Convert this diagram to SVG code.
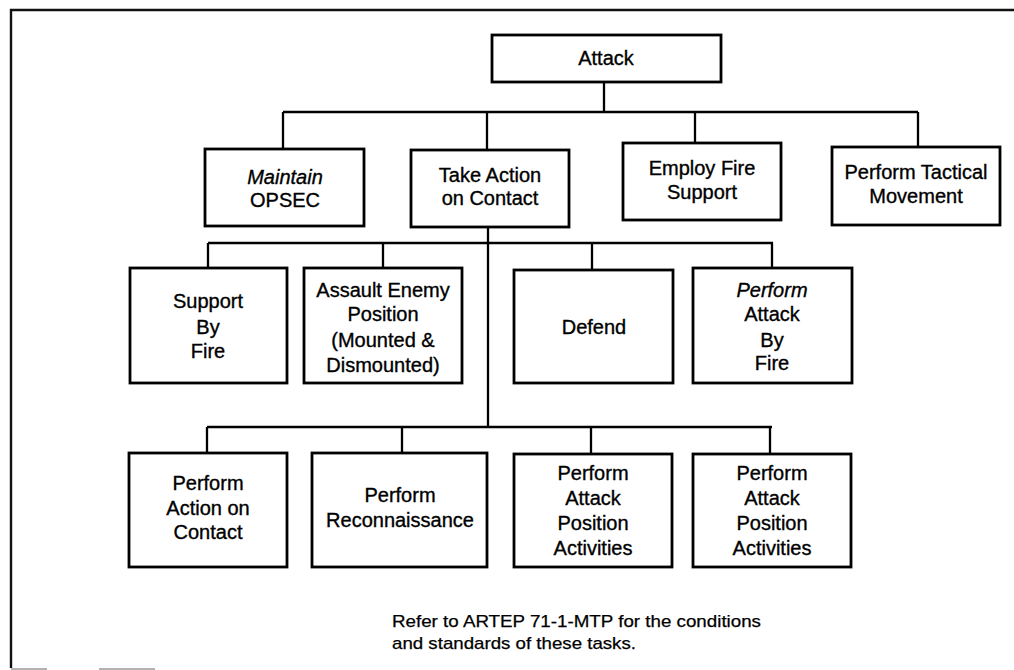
<svg xmlns="http://www.w3.org/2000/svg" width="1014" height="670" viewBox="0 0 1014 670">
  <style>
    .box { fill: #fff; stroke: #000; stroke-width: 2.8; }
    .wire { fill: none; stroke: #000; stroke-width: 2.3; }
    .frame { fill: none; stroke: #111; stroke-width: 2.4; }
    text { font-family: "Liberation Sans", Arial, sans-serif; font-size: 20px; fill: #000; stroke: #000; stroke-width: 0.35; text-anchor: middle; }
    .it { font-style: italic; }
    .note { font-size: 17px; text-anchor: start; stroke-width: 0.25; }
  </style>

  <!-- page frame -->
  <g id="frame">
    <path class="frame" d="M11,668 V10 H1014"/>
    <path d="M11,669 H47 M99,669 H155" stroke="#999" stroke-width="1.5" fill="none"/>
  </g>

  <!-- connectors -->
  <g id="connectors">
    <path class="wire" d="M604,82 V112 M283,112 H918 M283,112 V149 M487,112 V150 M695,112 V143 M918,112 V147"/>
    <path class="wire" d="M488,227 V427"/>
    <path class="wire" d="M208,243 H773 M208,243 V268 M383,243 V268 M592,243 V270 M772,243 V268"/>
    <path class="wire" d="M207,427 H772 M207,427 V453 M402,427 V453 M591,427 V454 M770,427 V454"/>
  </g>

  <g id="attack">
    <rect class="box" x="492" y="35" width="229" height="47"/>
    <text x="606" y="65">Attack</text>
  </g>

  <g id="maintain-opsec">
    <rect class="box" x="205" y="149" width="159" height="77"/>
    <text x="285" y="184" class="it">Maintain</text>
    <text x="285" y="207">OPSEC</text>
  </g>

  <g id="take-action">
    <rect class="box" x="411" y="150" width="158" height="77"/>
    <text x="490" y="182">Take Action</text>
    <text x="490" y="205">on Contact</text>
  </g>

  <g id="employ-fire">
    <rect class="box" x="623" y="143" width="158" height="77"/>
    <text x="702" y="175">Employ Fire</text>
    <text x="702" y="199">Support</text>
  </g>

  <g id="tactical-movement">
    <rect class="box" x="832" y="147" width="168" height="78"/>
    <text x="916" y="179">Perform Tactical</text>
    <text x="916" y="203">Movement</text>
  </g>

  <g id="support-by-fire">
    <rect class="box" x="130" y="268" width="157" height="115"/>
    <text x="208" y="308">Support</text>
    <text x="208" y="334">By</text>
    <text x="208" y="358">Fire</text>
  </g>

  <g id="assault-enemy">
    <rect class="box" x="304" y="268" width="158" height="115"/>
    <text x="383" y="297">Assault Enemy</text>
    <text x="383" y="321">Position</text>
    <text x="383" y="347">(Mounted &amp;</text>
    <text x="383" y="372">Dismounted)</text>
  </g>

  <g id="defend">
    <rect class="box" x="514" y="270" width="159" height="113"/>
    <text x="594" y="334">Defend</text>
  </g>

  <g id="attack-by-fire">
    <rect class="box" x="693" y="268" width="159" height="115"/>
    <text x="772" y="297" class="it">Perform</text>
    <text x="772" y="321">Attack</text>
    <text x="772" y="347">By</text>
    <text x="772" y="370">Fire</text>
  </g>

  <g id="action-on-contact">
    <rect class="box" x="129" y="453" width="158" height="114"/>
    <text x="208" y="490">Perform</text>
    <text x="208" y="515">Action on</text>
    <text x="208" y="539">Contact</text>
  </g>

  <g id="reconnaissance">
    <rect class="box" x="312" y="453" width="175" height="114"/>
    <text x="400" y="502">Perform</text>
    <text x="400" y="527">Reconnaissance</text>
  </g>

  <g id="attack-position-1">
    <rect class="box" x="514" y="454" width="158" height="113"/>
    <text x="593" y="480">Perform</text>
    <text x="593" y="505">Attack</text>
    <text x="593" y="530">Position</text>
    <text x="593" y="555">Activities</text>
  </g>

  <g id="attack-position-2">
    <rect class="box" x="693" y="454" width="158" height="113"/>
    <text x="772" y="480">Perform</text>
    <text x="772" y="505">Attack</text>
    <text x="772" y="530">Position</text>
    <text x="772" y="555">Activities</text>
  </g>

  <g id="footnote">
    <text class="note" x="392" y="627" textLength="369" lengthAdjust="spacingAndGlyphs">Refer to ARTEP 71-1-MTP for the conditions</text>
    <text class="note" x="392" y="649" textLength="244" lengthAdjust="spacingAndGlyphs">and standards of these tasks.</text>
  </g>
</svg>
